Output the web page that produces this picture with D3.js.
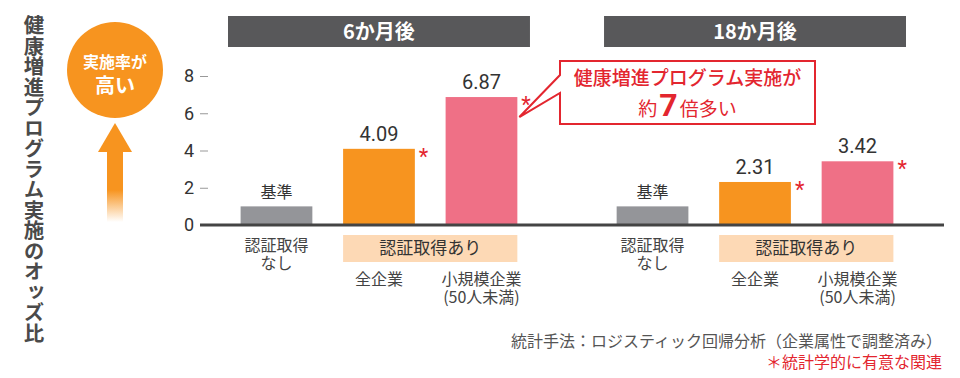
<!DOCTYPE html>
<html>
<head>
<meta charset="utf-8">
<script src="https://cdn.jsdelivr.net/npm/d3@7"></script>
<style>
  html, body { margin: 0; padding: 0; background: #fff; }
  svg { display: block; font-family: "Noto Sans CJK JP", "Noto Sans", sans-serif; }
</style>
</head>
<body>
<svg id="chart" width="960" height="378"></svg>
<script>
// ---- data ----
const periods = ["6か月後", "18か月後"];
const categories = ["認証取得なし", "全企業", "小規模企業"];
const values6 = [1, 4.09, 6.87];
const values18 = [1, 2.31, 3.42];
const valueLabels6 = ["基準", "4.09", "6.87"];
const valueLabels18 = ["基準", "2.31", "3.42"];
const significant = [false, true, true];
const yTicks = [0, 2, 4, 6, 8];
const categoryLines = [["認証取得", "なし"], ["全企業"], ["小規模企業", "(50人未満)"]];
const groupLabel = "認証取得あり";
const yTitle = "健康増進プログラム実施のオッズ比";
const calloutLine1 = "健康増進プログラム実施が";
const calloutLine2 = ["約", "7", "倍多い"];
const badgeLines = ["実施率が", "高い"];
const footnote1 = "統計手法：ロジスティック回帰分析（企業属性で調整済み）";
const footnote2 = "＊統計学的に有意な関連";

const seriesByPeriod = [values6, values18];
const labelsByPeriod = [valueLabels6, valueLabels18];

const colors = ["#949599", "#f7941f", "#ef7086"];
const red = "#e3262f";

const svg = d3.select("#chart");

// ---- scales ----
const y = d3.scaleLinear().domain([0, 8]).range([225, 76]);
const xOuter = d3.scaleBand().domain(periods).range([228, 906]).paddingInner(0.197).paddingOuter(0);
const xInner = d3.scaleBand().domain(categories).range([0, xOuter.bandwidth()]).paddingInner(0.3).paddingOuter(0.123);

// ---- y axis ----
const yAxis = d3.axisLeft(y).tickValues(yTicks).tickSize(8).tickPadding(6).tickFormat(d3.format("d"));
const gy = svg.append("g").attr("transform", "translate(208,0)").call(yAxis);
gy.select(".domain").remove();
gy.selectAll(".tick line").attr("stroke", "#999").attr("stroke-width", 1);
gy.selectAll(".tick text").attr("fill", "#333").style("font-size", "18px").style("font-family", "Roboto, 'Noto Sans', sans-serif");
gy.selectAll(".tick").filter(d => d === 0).select("line").attr("stroke", "none");

// vertical title
svg.append("text")
  .attr("x", 34).attr("y", 15)
  .style("writing-mode", "vertical-rl")
  .style("font-size", "20.5px").style("font-weight", "bold")
  .attr("fill", "#4a4a4a")
  .text(yTitle);

// badge circle + arrow
svg.append("circle").attr("cx", 115).attr("cy", 70).attr("r", 48).attr("fill", "#f7941f");
svg.append("text").attr("x", 115).attr("y", 68).attr("text-anchor", "middle")
  .attr("fill", "#fff").style("font-size", "16px").style("font-weight", "bold").text(badgeLines[0]);
svg.append("text").attr("x", 115).attr("y", 93).attr("text-anchor", "middle")
  .attr("fill", "#fff").style("font-size", "20px").style("font-weight", "bold").text(badgeLines[1]);

const defs = svg.append("defs");
const grad = defs.append("linearGradient").attr("id", "fade")
  .attr("gradientUnits", "userSpaceOnUse").attr("x1", 0).attr("y1", 190).attr("x2", 0).attr("y2", 222);
grad.append("stop").attr("offset", 0).attr("stop-color", "#f7941f").attr("stop-opacity", 1);
grad.append("stop").attr("offset", 1).attr("stop-color", "#f7941f").attr("stop-opacity", 0);
svg.append("path").attr("d", "M115,123 L132,152 L98,152 Z").attr("fill", "#f7941f");
svg.append("rect").attr("x", 107).attr("y", 151).attr("width", 16).attr("height", 71).attr("fill", "url(#fade)");

// ---- panels ----
periods.forEach((p, pi) => {
  const ox = xOuter(p);
  const g = svg.append("g").attr("transform", `translate(${ox},0)`);

  // header
  g.append("rect").attr("x", 0).attr("y", 16).attr("width", xOuter.bandwidth()).attr("height", 31).attr("fill", "#58585a");
  g.append("text").attr("x", xOuter.bandwidth() / 2).attr("y", 39).attr("text-anchor", "middle")
    .attr("fill", "#fff").style("font-size", "20px").style("font-weight", "bold").text(p);

  const vals = seriesByPeriod[pi];
  const labs = labelsByPeriod[pi];

  g.selectAll("rect.bar").data(categories).join("rect").attr("class", "bar")
    .attr("x", d => xInner(d)).attr("width", xInner.bandwidth())
    .attr("y", (d, i) => y(vals[i])).attr("height", (d, i) => y(0) - y(vals[i]))
    .attr("fill", (d, i) => colors[i]);

  g.selectAll("text.val").data(categories).join("text").attr("class", "val")
    .attr("x", d => xInner(d) + xInner.bandwidth() / 2)
    .attr("y", (d, i) => y(vals[i]) - 8)
    .attr("text-anchor", "middle").attr("fill", "#333")
    .style("font-size", (d, i) => i === 0 ? "16px" : "20px")
    .style("font-family", (d, i) => i === 0 ? null : "Roboto, 'Noto Sans', sans-serif")
    .text((d, i) => labs[i]);

  g.selectAll("text.star").data(categories.filter((d, i) => significant[i])).join("text").attr("class", "star")
    .attr("x", d => xInner(d) + xInner.bandwidth() + 4)
    .attr("y", d => y(vals[categories.indexOf(d)]) + 15)
    .attr("fill", red).style("font-size", "22px").style("font-family", "Roboto, sans-serif").text("*");

  // group box
  const bx0 = xInner(categories[1]);
  const bx1 = xInner(categories[2]) + xInner.bandwidth();
  g.append("rect").attr("x", bx0).attr("y", 235).attr("width", bx1 - bx0).attr("height", 27).attr("fill", "#fdd9b5");
  g.append("text").attr("x", (bx0 + bx1) / 2).attr("y", 254).attr("text-anchor", "middle")
    .attr("fill", "#333").style("font-size", "17px").text(groupLabel);

  // category labels (multi-line as tspans)
  categories.forEach((c, ci) => {
    const cx = xInner(c) + xInner.bandwidth() / 2;
    const y0 = ci === 0 ? 251 : 285;
    const t = g.append("text").attr("x", cx).attr("y", y0).attr("text-anchor", "middle")
      .attr("fill", "#444").style("font-size", "16px");
    categoryLines[ci].forEach((line, li) => {
      t.append("tspan").attr("x", cx).attr("y", y0 + li * 18).text(line);
    });
  });
});

// axis baseline
svg.append("line").attr("x1", 200).attr("x2", 944).attr("y1", y(0)).attr("y2", y(0))
  .attr("stroke", "#444").attr("stroke-width", 3);

// ---- callout ----
const pinkRight = xOuter(periods[0]) + xInner(categories[2]) + xInner.bandwidth();
const tipX = pinkRight + 2, tipY = y(values6[2]) + 20;
const cb = { x: 560, y: 61, w: 255, h: 63 };
svg.append("path")
  .attr("d", `M${cb.x},${cb.y} H${cb.x + cb.w} V${cb.y + cb.h} H${cb.x} V93 L${tipX},${tipY} L${cb.x},75 Z`)
  .attr("fill", "#fff").attr("stroke", red).attr("stroke-width", 2).attr("stroke-linejoin", "miter");
svg.append("text").attr("x", cb.x + cb.w / 2).attr("y", 85).attr("text-anchor", "middle")
  .attr("fill", red).style("font-size", "19px").style("font-weight", "500").text(calloutLine1);
const t2 = svg.append("text").attr("x", cb.x + cb.w / 2).attr("y", 116).attr("text-anchor", "middle").attr("fill", red);
t2.append("tspan").style("font-size", "19px").text(calloutLine2[0]);
t2.append("tspan").style("font-size", "32px").style("font-weight", "bold").style("font-family", "Roboto, sans-serif").attr("dx", 2).text(calloutLine2[1]);
t2.append("tspan").style("font-size", "19px").attr("dx", 2).text(calloutLine2[2]);

// ---- footnotes ----
svg.append("text").attr("x", 942).attr("y", 347).attr("text-anchor", "end")
  .attr("fill", "#555").style("font-size", "16px").text(footnote1);
svg.append("text").attr("x", 942).attr("y", 368).attr("text-anchor", "end")
  .attr("fill", red).style("font-size", "16px").text(footnote2);
</script>
</body>
</html>
